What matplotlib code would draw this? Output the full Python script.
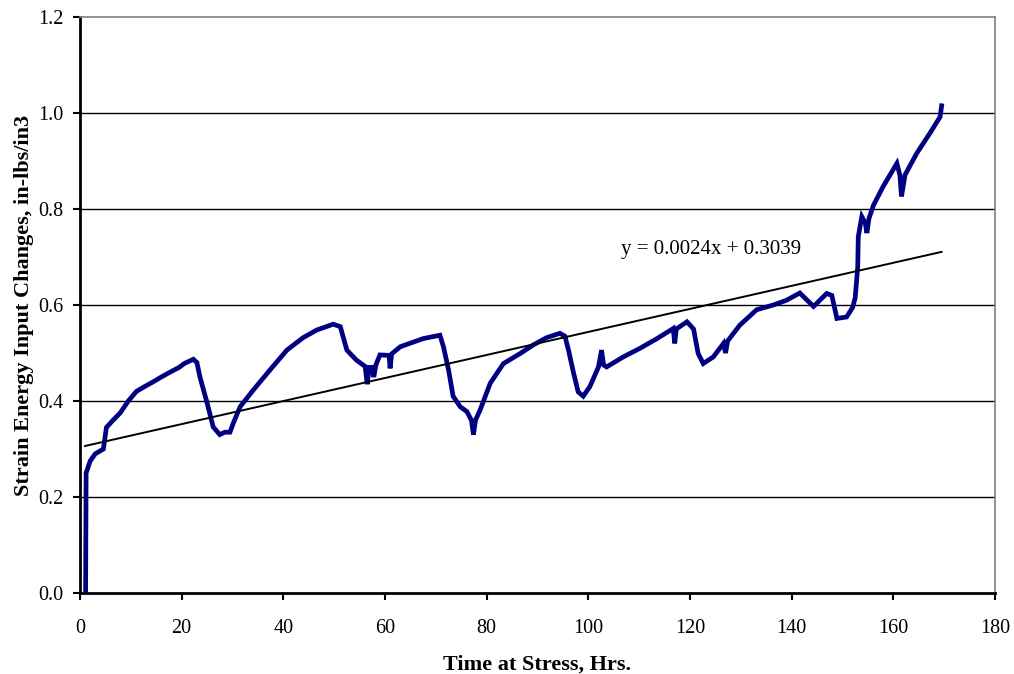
import matplotlib
matplotlib.use("Agg")
import matplotlib.pyplot as plt
import numpy as np

plt.rcParams['font.family'] = ['Liberation Serif', 'DejaVu Serif']

# Data
time_hrs = [1.1, 1.15, 1.2, 2.0, 3.0, 4.6, 5.2, 6.5, 7.9, 9.5, 11.1, 12.7, 14.4, 16.0, 17.7,
            19.5, 20.5, 22.3, 23.0,
            23.6, 24.9, 26.2, 27.5, 28.5, 29.5, 30.2, 31.5, 34.1, 37.4, 40.7, 43.9, 46.6,
            49.8, 51.2, 52.5, 54.4, 56.1, 56.5, 56.9, 57.4, 57.8, 58.2, 59.0, 60.8, 61.0,
            61.3, 63.0, 67.5, 70.8, 71.5, 72.5, 73.4, 74.8, 76.1, 77.0, 77.4, 77.8, 78.7,
            80.7, 83.3, 86.6, 89.2, 91.8, 94.4, 95.4, 96.1, 97.1, 98.0, 99.0, 100.3, 102.0,
            102.6, 103.0, 103.6, 106.9, 110.2, 113.5, 116.7, 117.0, 117.3, 119.4, 120.7,
            121.6, 122.6, 124.6, 126.6, 127.0, 127.4, 129.8, 133.1, 136.4, 139.0, 141.6,
            144.3, 146.9, 147.9, 148.9, 150.8, 152.0, 152.5, 153.0, 153.1, 153.8, 154.5,
            154.8, 155.2, 156.1, 158.0, 160.7, 161.3, 161.6, 162.3, 164.6, 167.2, 169.2,
            169.5]
strain_energy = [0.0, 0.12, 0.25, 0.275, 0.29, 0.30, 0.345, 0.36, 0.375, 0.40, 0.42, 0.43,
                 0.44, 0.45, 0.46, 0.47, 0.478,
                 0.487, 0.48, 0.45, 0.40, 0.346, 0.33, 0.335, 0.335, 0.355, 0.388, 0.423,
                 0.465, 0.506, 0.532, 0.548, 0.56, 0.555, 0.506, 0.485, 0.472, 0.435, 0.47,
                 0.47, 0.45, 0.475, 0.496, 0.495, 0.468, 0.498, 0.513, 0.53, 0.537, 0.513,
                 0.465, 0.41, 0.388, 0.378, 0.36, 0.33, 0.36, 0.381, 0.437, 0.478, 0.499,
                 0.517, 0.532, 0.541, 0.535, 0.506, 0.458, 0.419, 0.41, 0.43, 0.471, 0.506,
                 0.475, 0.471, 0.492, 0.51, 0.53, 0.551, 0.52, 0.55, 0.565, 0.55, 0.499,
                 0.478, 0.492, 0.52, 0.50, 0.525, 0.558, 0.59, 0.60, 0.61, 0.625, 0.597,
                 0.624, 0.62, 0.572, 0.575, 0.595, 0.615, 0.68, 0.742, 0.784, 0.77, 0.75,
                 0.78, 0.808, 0.847, 0.895, 0.87, 0.826, 0.871, 0.916, 0.958, 0.992, 1.015]

trend_slope = 0.0024
trend_intercept = 0.3039
trend_x = [1.0, 169.5]
trend_label = "y = 0.0024x + 0.3039"

x_ticks = [0, 20, 40, 60, 80, 100, 120, 140, 160, 180]
y_ticks = [0.0, 0.2, 0.4, 0.6, 0.8, 1.0, 1.2]

fig = plt.figure(figsize=(10.14, 6.74), dpi=100)
ax = fig.add_axes([80/1014, 81/674, 915/1014, 576/674])

for yv in y_ticks[1:-1]:
    ax.axhline(yv, color='black', lw=1.0, zorder=1)

ax.plot(time_hrs, strain_energy, color='#000080', lw=3.4, solid_joinstyle='miter', zorder=3)

tx = np.array(trend_x)
ax.plot(tx, trend_slope * tx + trend_intercept, color='black', lw=1.4, zorder=4)
ax.text(106.5, 0.715, trend_label, fontsize=15, ha='left', va='center', zorder=5)

ax.set_xlim(0, 180)
ax.set_ylim(0, 1.2)
ax.set_xticks(x_ticks)
ax.set_xticklabels([str(t) for t in x_ticks])
ax.set_yticks(y_ticks)
ax.set_yticklabels([f"{t:.1f}" for t in y_ticks])
ax.tick_params(axis='both', direction='out', length=5, width=1.5, labelsize=14.5, colors='black')
ax.tick_params(axis='x', pad=14)
ax.tick_params(axis='y', pad=7)

ax.spines['left'].set_linewidth(2)
ax.spines['bottom'].set_linewidth(2)
ax.spines['top'].set_color('#808080')
ax.spines['right'].set_color('#808080')
ax.spines['top'].set_linewidth(1.2)
ax.spines['right'].set_linewidth(1.2)

ax.set_xlabel("Time at Stress, Hrs.", fontsize=16, fontweight='bold', labelpad=12)
ax.set_ylabel("Strain Energy Input Changes, in-lbs/in3", fontsize=16, fontweight='bold', labelpad=3)

fig.savefig("out.png", dpi=100)
